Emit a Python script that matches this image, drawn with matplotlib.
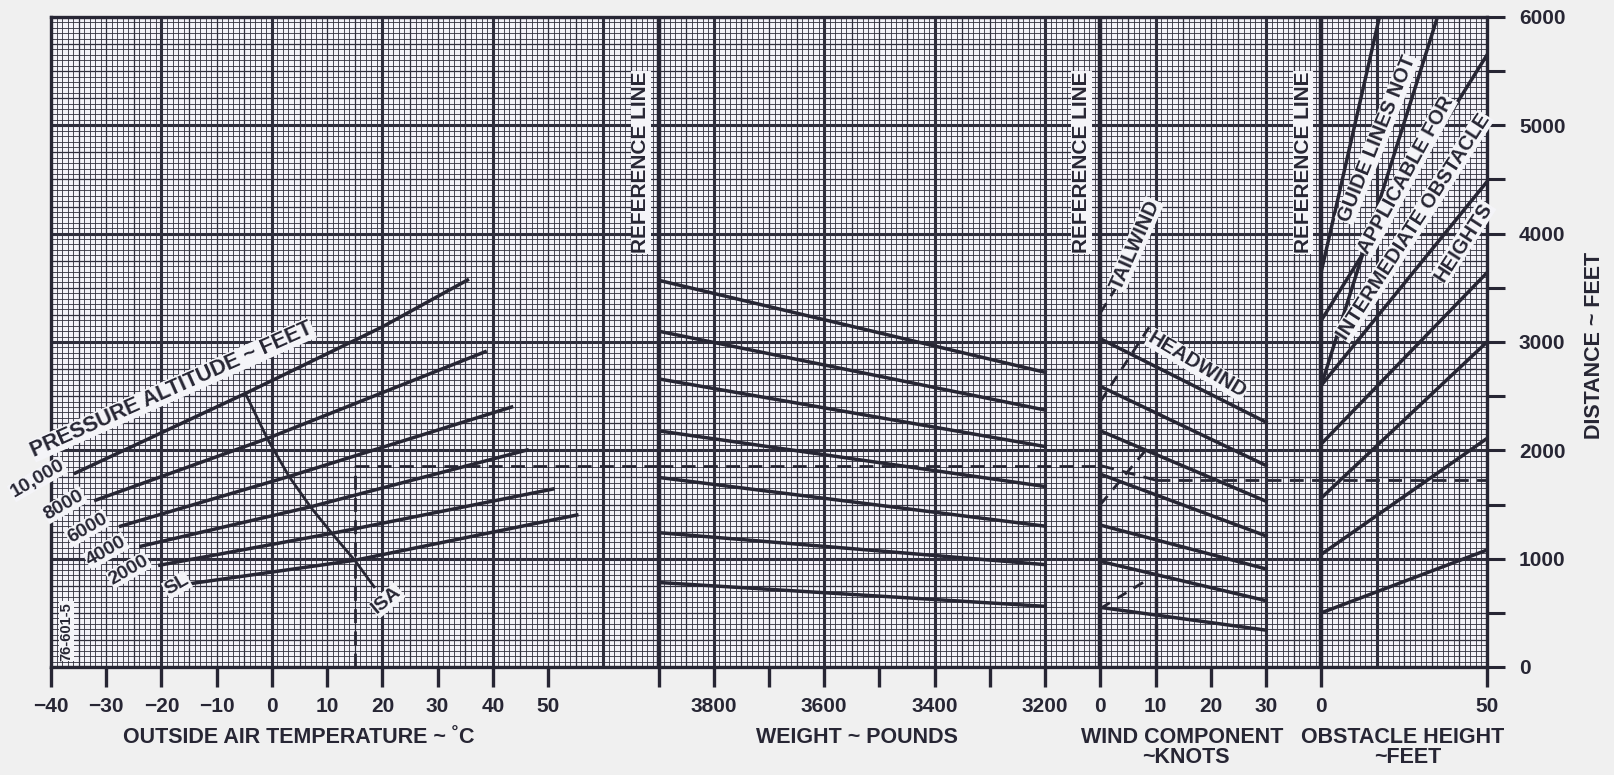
import matplotlib
matplotlib.use("Agg")
import matplotlib.pyplot as plt
import numpy as np

plt.rcParams['font.family'] = ['Liberation Sans', 'DejaVu Sans']
plt.rcParams['font.weight'] = 'bold'

# ---------------- data ----------------
temp_ticks = [-40, -30, -20, -10, 0, 10, 20, 30, 40, 50]
temp_labels = ['\u221240', '\u221230', '\u221220', '\u221210', '0', '10', '20', '30', '40', '50']
weight_ticks = [3900, 3800, 3700, 3600, 3500, 3400, 3300, 3200]
weight_labels = ['', '3800', '', '3600', '', '3400', '', '3200']
wind_ticks = [0, 10, 20, 30]
wind_labels = ['0', '10', '20', '30']
obst_ticks = [0, 50]
obst_labels = ['0', '50']
dist_ticks = [0, 500, 1000, 1500, 2000, 2500, 3000, 3500, 4000, 4500, 5000, 5500, 6000]
dist_labels = ['0', '', '1000', '', '2000', '', '3000', '', '4000', '', '5000', '', '6000']

alt_names = ['SL', '2000', '4000', '6000', '8000', '10,000']
alt_temps = [[-14.7, 15.0, 55.2],
             [-20.3, 11.0, 50.9],
             [-23.7, 7.1, 46.2],
             [-27.4, 3.1, 43.4],
             [-31.9, -0.8, 38.6],
             [-35.6, -4.8, 20.0, 35.4]]
alt_dists = [[770, 985, 1403],
             [940, 1235, 1643],
             [1115, 1480, 2003],
             [1300, 1759, 2400],
             [1540, 2110, 2910],
             [1790, 2525, 3140, 3572]]

isa_temp = [-4.8, -0.8, 3.1, 7.1, 11.0, 15.0, 18.5]
isa_dist = [2525, 2105, 1759, 1470, 1225, 985, 740]

weight_span = [3900, 3200]
weight_start_dist = [3570, 3100, 2660, 2180, 1750, 1240, 780]
weight_end_dist = [2720, 2372, 2035, 1666, 1300, 945, 560]

wind_span = [0, 30]
head_start_dist = [3030, 2590, 2180, 1780, 1310, 975, 550]
head_end_dist = [2260, 1860, 1530, 1210, 905, 612, 340]
tail_span = [0, 9]
tail_start_dist = [3270, 2450, 1500, 540]
tail_end_dist = [4000, 3150, 2050, 820]

obst_span = [0, 50]
obst_start_dist = [500, 1040, 1560, 2060, 2600, 2600, 3200, 3650]
obst_end_dist = [1080, 2110, 3000, 3640, 4480, 7450, 5650, 10350]

ex_temp = 15
ex_dist_ref = 1860
ex_wind = 10
ex_dist_final = 1725

# ---------------- layout ----------------
W_PX, H_PX = 1615, 775
fig = plt.figure(figsize=(W_PX / 100, H_PX / 100), dpi=100)
fig.patch.set_facecolor('#f0f0f0')

left_px, right_px, top_px, bot_px = 51, 1487, 17, 667
U_TOTAL = 260.0
def rect(u0, u1):
    x0 = left_px + (right_px - left_px) * u0 / U_TOTAL
    x1 = left_px + (right_px - left_px) * u1 / U_TOTAL
    return [x0 / W_PX, 1 - bot_px / H_PX, (x1 - x0) / W_PX, (bot_px - top_px) / H_PX]

INK = '#272634'
GRID = '#2f2e3c'

axg = fig.add_axes(rect(0, 260))
axg.set_xlim(0, 260)
axg.set_ylim(0, 6000)
axg.set_facecolor('#f3f2f8')
axg.set_xticks([]); axg.set_yticks([])
cols = np.arange(0, 261)
rows = np.arange(0, 6001, 50)
axg.vlines(cols[(cols % 5) != 0], 0, 6000, color=GRID, lw=0.6, zorder=1)
axg.vlines(cols[((cols % 5) == 0) & ((cols % 20) != 0)], 0, 6000, color=GRID, lw=0.9, zorder=1)
axg.vlines(cols[(cols % 20) == 0], 0, 6000, color=GRID, lw=2.2, zorder=1)
axg.hlines(rows[(rows % 250) != 0], 0, 260, color=GRID, lw=0.6, zorder=1)
axg.hlines(rows[((rows % 250) == 0) & ((rows % 1000) != 0)], 0, 260, color=GRID, lw=0.9, zorder=1)
axg.hlines(rows[(rows % 1000) == 0], 0, 260, color=GRID, lw=2.2, zorder=1)
axg.vlines([110, 190, 230], 0, 6000, color=INK, lw=3.2, zorder=2)
for s in axg.spines.values():
    s.set_linewidth(2.4); s.set_color(INK)

FS = 15

def overlay(u0, u1, xlim):
    a = fig.add_axes(rect(u0, u1))
    a.set_xlim(*xlim)
    a.set_ylim(0, 6000)
    a.patch.set_alpha(0)
    for s in a.spines.values():
        s.set_visible(False)
    a.set_yticks([])
    a.tick_params(axis='x', direction='out', length=14.5, width=2.4, color=INK,
                  pad=7, labelsize=FS, labelcolor=INK)
    return a

ax_t = overlay(0, 110, (-40, 70))
ax_w = overlay(110, 190, (3900, 3100))
ax_k = overlay(190, 230, (0, 40))
ax_o = overlay(230, 260, (0, 50))

ax_t.set_xticks(temp_ticks, temp_labels)
ax_w.set_xticks(weight_ticks, weight_labels)
ax_k.set_xticks(wind_ticks, wind_labels)
ax_o.set_xticks(obst_ticks, obst_labels)

ax_o.yaxis.tick_right()
ax_o.set_yticks(dist_ticks, dist_labels)
ax_o.tick_params(axis='y', direction='out', length=13, width=2.2, color=INK,
                 pad=10, labelsize=FS, labelcolor=INK)

LW = 2.5
for t, d in zip(alt_temps, alt_dists):
    ax_t.plot(t, d, color=INK, lw=LW, zorder=5)
ax_t.plot(isa_temp, isa_dist, color=INK, lw=2.0, zorder=5)

for d0, d1 in zip(weight_start_dist, weight_end_dist):
    ax_w.plot(weight_span, [d0, d1], color=INK, lw=LW, zorder=5)

for d0, d1 in zip(head_start_dist, head_end_dist):
    ax_k.plot(wind_span, [d0, d1], color=INK, lw=LW, zorder=5)
for d0, d1 in zip(tail_start_dist, tail_end_dist):
    ax_k.plot(tail_span, [d0, d1], color=INK, lw=2.0, ls=(0, (4, 3)), zorder=5)

for d0, d1 in zip(obst_start_dist, obst_end_dist):
    ax_o.plot(obst_span, [d0, d1], color=INK, lw=LW, zorder=5)

dash = (0, (5, 3))
ax_t.plot([ex_temp, ex_temp], [0, ex_dist_ref], color=INK, lw=2.0, ls=dash, zorder=6)
ax_t.plot([ex_temp, 70], [ex_dist_ref, ex_dist_ref], color=INK, lw=2.0, ls=dash, zorder=6)
ax_w.plot([3900, 3100], [ex_dist_ref, ex_dist_ref], color=INK, lw=2.0, ls=dash, zorder=6)
ax_k.plot([0, ex_wind], [ex_dist_ref, ex_dist_final], color=INK, lw=2.0, ls=dash, zorder=6)
ax_k.plot([ex_wind, ex_wind], [0, ex_dist_final], color=INK, lw=2.4, ls=dash, zorder=6)
ax_k.plot([ex_wind, 40], [ex_dist_final, ex_dist_final], color=INK, lw=2.0, ls=dash, zorder=6)
ax_o.plot([0, 50], [ex_dist_final, ex_dist_final], color=INK, lw=2.0, ls=dash, zorder=6)

# ---------------- text ----------------
bb = dict(facecolor='#f4f4f8', edgecolor='none', pad=0.5)
tk = dict(color=INK, fontweight='bold', ha='center', va='center', zorder=8)

ax_t.text(-18.1, 2560, 'PRESSURE ALTITUDE ~ FEET', rotation=24, fontsize=15.5, bbox=bb, **tk)
label_pos = [(-17.2, 757), (-25.9, 895), (-30.0, 1071), (-33.4, 1283), (-37.6, 1495), (-42.4, 1735)]
for name, (x, y) in zip(alt_names, label_pos):
    ax_t.text(x, y, name, rotation=30, fontsize=14, bbox=bb, clip_on=False, **tk)
ax_t.text(20.8, 614, 'ISA', rotation=40, fontsize=14, bbox=bb, **tk)
ax_t.text(-37.2, 330, '76-601-5', rotation=90, fontsize=10.5, bbox=bb, clip_on=False, **tk)
ax_t.text(66.8, 4660, 'REFERENCE LINE', rotation=90, fontsize=15, bbox=bb, **tk)
ax_w.text(3134, 4660, 'REFERENCE LINE', rotation=90, fontsize=15, bbox=bb, **tk)
ax_k.text(36.7, 4660, 'REFERENCE LINE', rotation=90, fontsize=15, bbox=bb, **tk)
ax_k.text(6.3, 3900, 'TAILWIND', rotation=66, fontsize=14.5, bbox=bb, **tk)
ax_k.text(17.5, 2790, 'HEADWIND', rotation=-31, fontsize=14.5, bbox=bb, **tk)
ax_o.text(16.9, 4874, 'GUIDE LINES NOT', rotation=68, fontsize=14.5, bbox=bb, **tk)
ax_o.text(25.6, 4540, 'APPLICABLE FOR', rotation=61, fontsize=14.5, bbox=bb, **tk)
ax_o.text(27.8, 4065, 'INTERMEDIATE OBSTACLE', rotation=57, fontsize=14.5, bbox=bb, **tk)
ax_o.text(42.8, 3923, 'HEIGHTS', rotation=57, fontsize=14.5, bbox=bb, **tk)

TY1, TY2 = -0.108, -0.139
ax_t.text(4.8, TY1, 'OUTSIDE AIR TEMPERATURE ~ \u02daC', transform=ax_t.get_xaxis_transform(),
          fontsize=15.5, clip_on=False, **tk)
ax_w.text(3540, TY1, 'WEIGHT ~ POUNDS', transform=ax_w.get_xaxis_transform(),
          fontsize=15.5, clip_on=False, **tk)
ax_k.text(14.8, TY1, 'WIND COMPONENT', transform=ax_k.get_xaxis_transform(),
          fontsize=15.5, clip_on=False, **tk)
ax_k.text(15.5, TY2, '~KNOTS', transform=ax_k.get_xaxis_transform(),
          fontsize=15.5, clip_on=False, **tk)
ax_o.text(24.4, TY1, 'OBSTACLE HEIGHT', transform=ax_o.get_xaxis_transform(),
          fontsize=15.5, clip_on=False, **tk)
ax_o.text(26, TY2, '~FEET', transform=ax_o.get_xaxis_transform(),
          fontsize=15.5, clip_on=False, **tk)
ax_o.text(1.65, 2970, 'DISTANCE ~ FEET', transform=ax_o.get_yaxis_transform(),
          rotation=90, fontsize=15.5, clip_on=False, **tk)

fig.savefig('out.png', dpi=100, facecolor=fig.get_facecolor())
